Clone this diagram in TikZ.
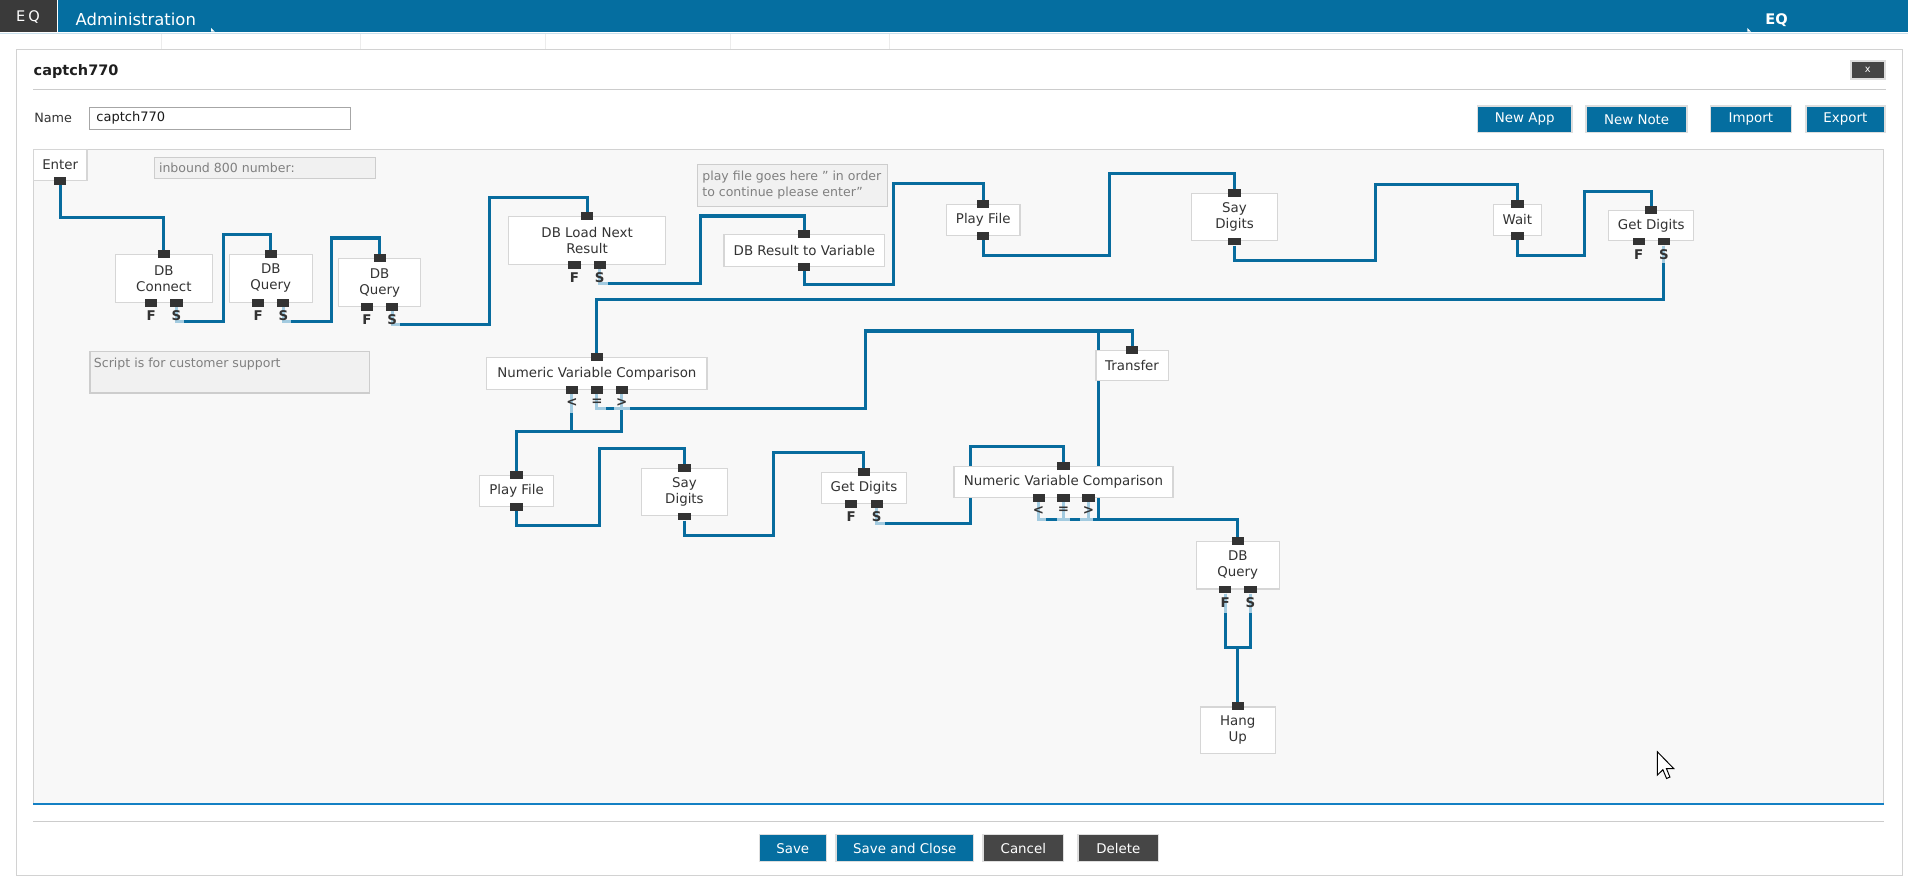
\documentclass[tikz,border=0pt]{standalone}
\usepackage{fontspec}
\setmainfont{DejaVu Sans}
\usetikzlibrary{calc}
\definecolor{barblue}{RGB}{5,110,160}
\definecolor{logodark}{RGB}{58,58,58}
\definecolor{wirec}{RGB}{8,108,158}
\definecolor{stubc}{RGB}{163,203,224}
\definecolor{portc}{RGB}{51,51,51}
\definecolor{boxborder}{RGB}{214,214,214}
\definecolor{canvasbg}{RGB}{248,248,248}
\definecolor{notebg}{RGB}{241,241,241}
\definecolor{noteborder}{RGB}{205,205,205}
\definecolor{notetext}{RGB}{128,128,128}
\definecolor{txtc}{RGB}{51,51,51}
\definecolor{darkbtn}{RGB}{70,70,70}
\definecolor{btnborder}{RGB}{222,222,222}
\definecolor{rulec}{RGB}{204,204,204}
\definecolor{panelborder}{RGB}{210,210,210}
\definecolor{canvasblue}{RGB}{20,128,196}
\definecolor{barline}{RGB}{200,224,237}
\definecolor{faint}{RGB}{236,236,236}
\pgfdeclarelayer{back}
\pgfdeclarelayer{wires}
\pgfsetlayers{back,wires,main}
\newcommand\appfont{\fontsize{11}{13.2}\selectfont}
\newcommand\lblfont{\bfseries\fontsize{11}{12}\selectfont}
\newcommand\btnfont{\fontsize{11}{13}\selectfont}
\newcommand\notefont{\fontsize{10.3}{13.7}\selectfont}
\newcommand\inport[1]{\node[port] (#1I) at (#1.north) {};}
\newcommand\outport[1]{\node[port] (#1O) at (#1.south) {};}
\newcommand\fsports[1]{%
  \node[port] (#1F) at ($(#1.south)+(-10.4,0)$) {};
  \node[port] (#1S) at ($(#1.south)+(10.4,0)$) {};
  \node[plabel] (#1Fl) at ($(#1F)+(0,10.5)$) {F};
  \node[plabel] (#1Sl) at ($(#1S)+(0,10.5)$) {S};}
\newcommand\cmpports[1]{%
  \node[port] (#1L) at ($(#1.south)+(-20.5,0)$) {};
  \node[port] (#1E) at (#1.south) {};
  \node[port] (#1G) at ($(#1.south)+(20.5,0)$) {};
  \node[plabel] (#1Ll) at ($(#1L)+(0,10.5)$) {<};
  \node[plabel] (#1El) at ($(#1E)+(0,10.5)$) {=};
  \node[plabel] (#1Gl) at ($(#1G)+(0,10.5)$) {>};}
\begin{document}
\begin{tikzpicture}[x=1pt,y=-1pt,
  appbox/.style={draw=boxborder, fill=white, line width=0.9pt, inner sep=0pt, align=center, text=txtc, font=\appfont},
  port/.style={fill=portc, minimum width=10pt, minimum height=6.5pt, inner sep=0pt},
  wireline/.style={draw=wirec, line width=2.5pt},
  stubline/.style={draw=stubc, line width=2.5pt},
  plabel/.style={font=\lblfont, text=txtc, inner sep=0pt},
  notebox/.style={draw=noteborder, fill=notebg, line width=0.9pt, inner sep=0pt, anchor=north west},
  notetxt/.style={font=\notefont, text=notetext, inner sep=0pt, anchor=west, align=left},
  btn/.style={fill=barblue, draw=btnborder, line width=1.2pt, text=white, font=\btnfont, inner sep=0pt, minimum height=22pt},
  dbtn/.style={btn, fill=darkbtn}]
\useasboundingbox (0,0) rectangle (1568,721.5);

\begin{pgfonlayer}{back}
% top bar
\fill[white] (0,0) rectangle (1568,721.5);
\fill[barblue] (0,0) rectangle (1568,26.6);
\fill[logodark] (0,0) rectangle (46.5,26.6);
\draw[white, line width=1pt] (47,0) -- (47,26.6);
\draw[barline, line width=1pt] (0,27.3) -- (1568,27.3);
\fill[white] (173.5,26) -- (176.5,26) -- (173.5,23) -- cycle;
\fill[white] (1436,26) -- (1439,26) -- (1436,23) -- cycle;
\foreach \xx in {132.5,296,448.5,600,731} \draw[faint, line width=0.7pt] (\xx,28) -- (\xx,41);
% dialog
\draw[fill=white, draw=panelborder, line width=0.9pt] (13.5,41) rectangle (1563.7,719.5);
\draw[rulec, line width=0.9pt] (27.5,73.4) -- (1549.6,73.4);
% canvas
\draw[fill=canvasbg, draw=panelborder, line width=0.9pt] (27.5,123) rectangle (1548,661);
\draw[canvasblue, line width=1.8pt] (27.5,661) -- (1548,661);
\draw[rulec, line width=0.9pt] (27.5,675) -- (1548,675);
\end{pgfonlayer}

% header texts
\node[text=white, font=\fontsize{12}{14}\selectfont, inner sep=0pt] (logo) at (23,13.7) {E\kern2.5pt Q};
\node[text=white, font=\fontsize{13.5}{15}\selectfont, inner sep=0pt, anchor=west] (admin) at (62,15.9) {Administration};
\node[text=white, font=\bfseries\fontsize{12}{14}\selectfont, inner sep=0pt] (eqright) at (1460,16.4) {EQ};
\node[text=black!88, font=\bfseries\fontsize{11.9}{14}\selectfont, inner sep=0pt, anchor=west] (title) at (27.5,58.9) {captch770};
\node[fill=darkbtn, draw=btnborder, line width=1.2pt, minimum width=28pt, minimum height=15pt, inner sep=0pt, text=white, font=\fontsize{8}{9}\selectfont] (closebtn) at (1535,57.5) {x};
\node[text=txtc, font=\fontsize{10.5}{12}\selectfont, inner sep=0pt, anchor=west] (namelbl) at (28,97) {Name};
\node[draw=black!35, fill=white, line width=0.9pt, minimum width=214.5pt, minimum height=18.6pt, inner sep=0pt, anchor=north west] (namebox) at (73,87.7) {};
\node[text=black!90, font=\fontsize{10.7}{12}\selectfont, inner sep=0pt, anchor=west] (nametxt) at (79,97) {captch770};

% buttons
\node[btn, minimum width=78pt] (newapp) at (1253,98) {New App};
\node[btn, minimum width=83pt] (newnote) at (1345,98) {New Note};
\node[btn, minimum width=66.5pt] (import) at (1438.8,98) {Import};
\node[btn, minimum width=65pt] (export) at (1516.5,98) {Export};
\node[btn, minimum width=55pt] (save) at (651.5,697) {Save};
\node[btn, minimum width=113pt] (saveclose) at (743.5,697) {Save and Close};
\node[dbtn, minimum width=66pt] (cancel) at (841,697) {Cancel};
\node[dbtn, minimum width=66pt] (delete) at (919,697) {Delete};

% notes
\node[notebox, minimum width=181.2pt, minimum height=17.2pt] (note1) at (126.8,129.3) {};
\node[notetxt] (note1t) at (130.5,138.2) {inbound 800 number:};
\node[notebox, minimum width=156pt, minimum height=34pt] (note2) at (573,135) {};
\node[notetxt] (note2t) at (577,152) {play file goes here \symbol{34} in order\\to continue please enter\symbol{34}};
\node[notebox, minimum width=230pt, minimum height=34pt] (note3) at (73.5,288.5) {};
\node[notetxt] (note3t) at (77,299.4) {Script is for customer support};

% app boxes
\node[appbox, minimum width=44pt, minimum height=25pt] (enter) at (49.5,135.5) {Enter};
\node[appbox, minimum width=79.4pt, minimum height=39.5pt] (dbc) at (134.7,228.75) {DB\\Connect};
\node[appbox, minimum width=68pt, minimum height=39.5pt] (dbqa) at (222.5,228.75) {DB\\Query};
\node[appbox, minimum width=67pt, minimum height=39pt] (dbqb) at (312,232.2) {DB\\Query};
\node[appbox, minimum width=129pt, minimum height=39pt] (dbl) at (482.5,197.5) {DB Load Next\\Result};
\node[appbox, minimum width=132pt, minimum height=26pt] (dbr) at (661,206) {DB Result to Variable};
\node[appbox, minimum width=60.5pt, minimum height=25.4pt] (pfa) at (808,180.7) {Play File};
\node[appbox, minimum width=71pt, minimum height=39pt] (sda) at (1014.5,178.5) {Say\\Digits};
\node[appbox, minimum width=40pt, minimum height=25.4pt] (wait) at (1247,180.7) {Wait};
\node[appbox, minimum width=70pt, minimum height=25pt] (gda) at (1357,185.5) {Get Digits};
\node[appbox, minimum width=181pt, minimum height=26pt] (nvca) at (490.5,307) {Numeric Variable Comparison};
\node[appbox, minimum width=59.3pt, minimum height=25pt] (tr) at (930.3,300.5) {Transfer};
\node[appbox, minimum width=60.7pt, minimum height=25pt] (pfb) at (424.5,403.5) {Play File};
\node[appbox, minimum width=70pt, minimum height=39pt] (sdb) at (562.5,404.5) {Say\\Digits};
\node[appbox, minimum width=69.8pt, minimum height=25pt] (gdb) at (710,401) {Get Digits};
\node[appbox, minimum width=180pt, minimum height=25.2pt] (nvcb) at (874,396) {Numeric Variable Comparison};
\node[appbox, minimum width=68.4pt, minimum height=39pt] (dbqc) at (1017.2,464.5) {DB\\Query};
\node[appbox, minimum width=62pt, minimum height=38pt] (hang) at (1017.2,600) {Hang\\Up};

% ports
\outport{enter}
\inport{dbc}\fsports{dbc}
\inport{dbqa}\fsports{dbqa}
\inport{dbqb}\fsports{dbqb}
\inport{dbl}\fsports{dbl}
\inport{dbr}\outport{dbr}
\inport{pfa}\outport{pfa}
\inport{sda}\outport{sda}
\inport{wait}\outport{wait}
\inport{gda}\fsports{gda}
\inport{nvca}\cmpports{nvca}
\inport{tr}
\inport{pfb}\outport{pfb}
\inport{sdb}\outport{sdb}
\inport{gdb}\fsports{gdb}
\inport{nvcb}\cmpports{nvcb}
\inport{dbqc}\fsports{dbqc}
\inport{hang}

% connectors
\begin{pgfonlayer}{wires}
\draw[wireline] (enterO) -- (enterO |- 0,178.6) -| (dbcI);
\draw[wireline] (dbcS) -- (dbcS |- 0,264.4) -- (183.8,264.4) -- (183.8,192.6) -| (dbqaI);
\draw[wireline] (dbqaS) -- (dbqaS |- 0,264.4) -- (272.4,264.4) -- (272.4,195.6) -| (dbqbI);
\draw[wireline] (dbqbS) -- (dbqbS |- 0,267) -- (401.9,267) -- (401.9,162.5) -| (dblI);
\draw[wireline] (dblS) -- (dblS |- 0,233) -- (576,233) -- (576,177.5) -| (dbrI);
\draw[wireline] (dbrO) -- (dbrO |- 0,234) -- (734,234) -- (734,151) -| (pfaI);
\draw[wireline] (pfaO) -- (pfaO |- 0,209.8) -- (911.5,209.8) -- (911.5,142.5) -| (sdaI);
\draw[wireline] (sdaO) -- (sdaO |- 0,213.7) -- (1130,213.7) -- (1130,151.5) -| (waitI);
\draw[wireline] (waitO) -- (waitO |- 0,209.8) -- (1302,209.8) -- (1302,157) -| (gdaI);
\draw[wireline] (gdaS) -- (gdaS |- 0,246.5) -| (nvcaI);
\draw[wireline] (nvcaL) -- (nvcaL |- 0,355) -| (pfbI);
\draw[wireline] (nvcaG) -- (nvcaG |- 0,355) -- (nvcaL |- 0,355);
\draw[wireline] (nvcaE) -- (nvcaE |- 0,336) -- (711.2,336) -- (711.2,272) -| (trI);
\draw[wireline] (pfbO) -- (pfbO |- 0,431.5) -- (492.8,431.5) -- (492.8,368.7) -| (sdbI);
\draw[wireline] (sdbO) -- (sdbO |- 0,439.7) -- (636,439.7) -- (636,372) -| (gdbI);
\draw[wireline] (gdbS) -- (gdbS |- 0,430) -- (797.4,430) -- (797.4,367) -| (nvcbI);
\draw[wireline] ($(nvcbL |- 0,426.6)+(-1,0)$) -| (dbqcI);
\draw[wireline] (nvcbL) -- (nvcbL |- 0,426.6);
\draw[wireline] (nvcbE) -- (nvcbE |- 0,426.6);
\draw[wireline] (nvcbG) -- (nvcbG |- 0,426.6);
\draw[wireline] (902.4,426.6) -- (902.4,272);
\draw[wireline] (dbqcF) -- (dbqcF |- 0,532.3) -| (dbqcS);
\draw[wireline] (dbqcI |- 0,532.3) -- (hangI);
% light stubs
\draw[stubline] (dbcS) -- (dbcS |- 0,264.4) -- ++(6.5,0);
\draw[stubline] (dbqaS) -- (dbqaS |- 0,264.4) -- ++(6.5,0);
\draw[stubline] (dbqbS) -- (dbqbS |- 0,267) -- ++(6.5,0);
\draw[stubline] (dblS) -- (dblS |- 0,233) -- ++(6.5,0);
\draw[stubline] (gdaS) -- ++(0,18);
\draw[stubline] (gdbS) -- (gdbS |- 0,430) -- ++(6.5,0);
\draw[stubline] (nvcaL) -- ++(0,19);
\draw[stubline] (nvcaE) -- (nvcaE |- 0,336) -- ++(7.6,0);
\draw[stubline] ($(nvcaG |- 0,336)+(-6.2,0)$) -- (nvcaG |- 0,336);
\draw[stubline] (nvcaG) -- (nvcaG |- 0,336) -- ++(6.7,0);
\draw[stubline] ($(nvcbL |- 0,426.6)+(-1,0)$) -- (nvcbL |- 0,426.6) -- (nvcbL) ;
\draw[stubline] (nvcbL |- 0,426.6) -- ++(6,0);
\draw[stubline] ($(nvcbE |- 0,426.6)+(-5,0)$) -- ++(10,0);
\draw[stubline] (nvcbE) -- (nvcbE |- 0,426.6);
\draw[stubline] ($(nvcbG |- 0,426.6)+(-7,0)$) -- ++(11,0);
\draw[stubline] (nvcbG) -- (nvcbG |- 0,426.6);
\draw[stubline] (dbqcF) -- ++(0,19);
\draw[stubline] (dbqcS) -- ++(0,19);
\end{pgfonlayer}

% cursor
\draw[black, fill=white, line width=0.8pt, line join=miter, shift={(1362,617.8)}, scale=1.2]
  (0,0) -- (0,16) -- (3.8,12.3) -- (6.3,18.3) -- (8.6,17.3) -- (6.2,11.5) -- (11.2,11.5) -- cycle;
\end{tikzpicture}
\end{document}
